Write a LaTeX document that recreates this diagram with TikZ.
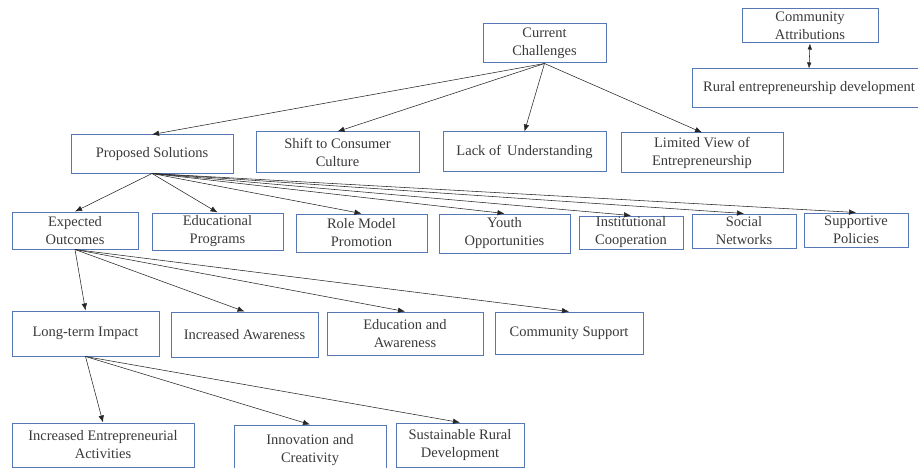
\documentclass[tikz,border=0pt]{standalone}
\usepackage{fontspec}
\setmainfont{Liberation Serif}
\usetikzlibrary{arrows.meta}
\definecolor{boxblue}{HTML}{5577B5}
\definecolor{txtgray}{HTML}{3A3A3A}
\tikzset{
  box/.style={draw=boxblue, line width=1pt, inner sep=0pt, align=center,
    text=txtgray, font=\fontsize{14.5}{18}\selectfont},
  conn/.style={draw=black!85, line width=0.55pt, -{Latex[length=7pt,width=5.5pt]}},
  dconn/.style={draw=black!85, line width=0.55pt, {Latex[length=6pt,width=4.5pt]}-{Latex[length=6pt,width=4.5pt]}}
}
\begin{document}
\begin{tikzpicture}[x=1pt,y=-1pt]
\useasboundingbox (0,0) rectangle (918,468);
\begin{scope}
\clip (0,0) rectangle (918,468);
% top right
\node[box, minimum width=136, minimum height=34] (ca) at (810,26) {Community\\Attributions};
\node[box, minimum width=234, minimum height=39] (rural) at (809,88.5) {Rural entrepreneurship development};
% row 1
\node[box, minimum width=123, minimum height=39] (cc) at (544.5,43.5) {Current\\Challenges};
% row 2
\node[box, minimum width=162, minimum height=38] (ps) at (152,154) {Proposed Solutions};
\node[box, minimum width=163, minimum height=40] (shift) at (337.5,152) {Shift to Consumer\\Culture};
\node[box, minimum width=163, minimum height=39] (lack) at (524.5,151.5) {Lack of\ \,Understanding};
\node[box, minimum width=162, minimum height=39] (lim) at (702,152.5) {Limited View of\\Entrepreneurship};
% row 3
\node[box, minimum width=126, minimum height=37] (eo) at (75,230.5) {Expected\\Outcomes};
\node[box, minimum width=131, minimum height=37] (ep) at (217.5,231.5) {Educational\\Programs};
\node[box, minimum width=131, minimum height=38] (rm) at (361.5,233) {Role Model\\Promotion};
\node[box, minimum width=131, minimum height=39] (yo) at (504.5,233.5) {Youth\\Opportunities};
\node[box, minimum width=104, minimum height=33] (ic) at (631,232.5) {Institutional\\Cooperation};
\node[box, minimum width=104, minimum height=34] (sn) at (744,231) {Social\\Networks};
\node[box, minimum width=104, minimum height=34] (sp) at (856,230) {Supportive\\Policies};
% row 4
\node[box, minimum width=147, minimum height=45] (lt) at (85.5,333.5) {Long-term Impact};
\node[box, minimum width=147, minimum height=45] (ia) at (244.5,334.5) {Increased Awareness};
\node[box, minimum width=156, minimum height=43] (ea) at (405,333.5) {Education and\\Awareness};
\node[box, minimum width=148, minimum height=42] (cs) at (569,333) {Community Support};
% row 5
\node[box, minimum width=182, minimum height=44] (iea) at (103,445) {Increased Entrepreneurial\\Activities};
\node[box, minimum width=152, minimum height=50] (inn) at (310,450) {Innovation and\\Creativity};
\node[box, minimum width=128, minimum height=44] (sus) at (460,445) {Sustainable Rural\\Development};
% connectors
\draw[dconn] (ca.south) -- (rural.north);
\foreach \t in {ps,shift,lack,lim} \draw[conn] (cc.south) -- (\t.north);
\foreach \t in {eo,ep,rm,yo,ic,sn,sp} \draw[conn] (ps.south) -- (\t.north);
\foreach \t in {lt,ia,ea,cs} \draw[conn] (eo.south) -- (\t.north);
\foreach \t in {iea,inn,sus} \draw[conn] (lt.south) -- (\t.north);
\end{scope}
\end{tikzpicture}
\end{document}
